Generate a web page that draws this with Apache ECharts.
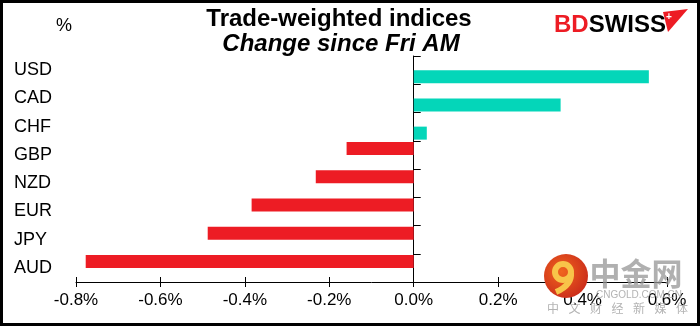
<!DOCTYPE html>
<html>
<head>
<meta charset="utf-8">
<script src="https://cdn.jsdelivr.net/npm/echarts@6/dist/echarts.min.js"></script>
<style>
html, body { margin: 0; padding: 0; background: #fff; }
#main { width: 700px; height: 327px; }
</style>
</head>
<body>
<div id="main"></div>
<script>
var currencies = ['USD', 'CAD', 'CHF', 'GBP', 'NZD', 'EUR', 'JPY', 'AUD'];
var changes = [0.557, 0.348, 0.031, -0.159, -0.232, -0.384, -0.488, -0.777];
var titleLines = ['Trade-weighted indices', 'Change since Fri AM'];
var watermarkChars = ['中', '文', '财', '经', '新', '媒', '体'];

var font = '"Liberation Sans", Arial, sans-serif';
var upColor = '#04d6b9';
var downColor = '#ed1c24';

// Excel draws the two signs as separate series, so they sit off-centre
var upData = changes.map(function (v) { return v >= 0 ? v : '-'; });
var downData = changes.map(function (v) { return v < 0 ? v : '-'; });

var myChart = echarts.init(document.getElementById('main'));

var graphics = [
    {
        type: 'rect',
        shape: { x: 1.5, y: 1.5, width: 697, height: 323 },
        style: { fill: 'none', stroke: '#000', lineWidth: 3 },
        z: 100
    },
    {
        type: 'text', x: 339, y: 19,
        style: { text: titleLines[0], fill: '#000', font: 'bold 24px ' + font, align: 'center', verticalAlign: 'middle' }
    },
    {
        type: 'text', x: 341, y: 44,
        style: { text: titleLines[1], fill: '#000', font: 'italic bold 24px ' + font, align: 'center', verticalAlign: 'middle' }
    },
    {
        type: 'text', x: 64, y: 26,
        style: { text: '%', fill: '#000', font: '18px ' + font, align: 'center', verticalAlign: 'middle' }
    },
    // BDSWISS logo
    {
        type: 'text', x: 554, y: 25,
        style: {
            text: '{a|BD}{b|SWISS}',
            verticalAlign: 'middle',
            rich: {
                a: { fill: '#ed1c24', font: 'bold 24px ' + font },
                b: { fill: '#000', font: 'bold 24px ' + font }
            }
        }
    },
    {
        type: 'polygon',
        shape: { points: [[663, 12], [688, 9], [668, 32]] },
        style: { fill: '#ed1c24' }
    },
    {
        type: 'text', x: 669, y: 17,
        style: { text: '+', fill: '#fff', font: 'bold 10px ' + font, align: 'center', verticalAlign: 'middle' }
    },
    // watermark
    {
        type: 'circle',
        shape: { cx: 566, cy: 276, r: 22 },
        style: {
            fill: new echarts.graphic.RadialGradient(0.4, 0.4, 0.7, [
                { offset: 0, color: '#f0641e' },
                { offset: 1, color: '#c8281a' }
            ])
        },
        z: 50
    },
    {
        type: 'arc',
        shape: { cx: 563, cy: 272, r: 8, startAngle: 0, endAngle: Math.PI * 2 },
        style: { fill: 'none', stroke: '#f8c449', lineWidth: 6 },
        z: 51
    },
    {
        type: 'bezierCurve',
        shape: { x1: 571, y1: 273, x2: 556, y2: 292, cpx1: 572, cpy1: 285 },
        style: { fill: 'none', stroke: '#f8c449', lineWidth: 6 },
        z: 51
    },
    {
        type: 'text', x: 636, y: 273,
        style: { text: '中金网', fill: 'rgba(150,150,150,0.75)', font: 'bold 31px "Noto Sans CJK SC", sans-serif', align: 'center', verticalAlign: 'middle' },
        z: 50
    },
    {
        type: 'text', x: 639, y: 295,
        style: { text: 'CNGOLD.COM.CN', fill: 'rgba(160,160,160,0.8)', font: '10px ' + font, align: 'center', verticalAlign: 'middle' },
        z: 50
    }
];
watermarkChars.forEach(function (ch, i) {
    graphics.push({
        type: 'text', x: 553 + i * 21.5, y: 308,
        style: { text: ch, fill: 'rgba(160,160,160,0.8)', font: '12px "Noto Sans CJK SC", sans-serif', align: 'center', verticalAlign: 'middle' },
        z: 50
    });
});

var option = {
    backgroundColor: '#fff',
    animation: false,
    grid: {
        left: 76,
        right: 33,
        top: 56,
        bottom: 45
    },
    xAxis: [{
        type: 'value',
        position: 'bottom',
        min: -0.8,
        max: 0.6,
        interval: 0.2,
        splitLine: { show: false },
        axisLine: { show: true, lineStyle: { color: '#000', width: 1 } },
        axisTick: { show: true, length: 5, lineStyle: { color: '#000' } },
        axisLabel: {
            margin: 10,
            color: '#000',
            fontSize: 17,
            fontFamily: font,
            formatter: function (v) { return v.toFixed(1) + '%'; }
        }
    }, {
        type: 'value',
        position: 'bottom',
        min: -0.8,
        max: 0.6,
        interval: 0.2,
        splitLine: { show: false },
        axisLine: { show: false },
        axisTick: { show: true, inside: true, length: 5, lineStyle: { color: '#000' } },
        axisLabel: { show: false }
    }],
    yAxis: [{
        type: 'category',
        inverse: true,
        position: 'left',
        data: currencies,
        axisLine: { show: true, onZero: true, lineStyle: { color: '#000', width: 1 } },
        axisTick: { show: true, inside: true, length: 7, lineStyle: { color: '#000' } },
        axisLabel: { show: false }
    }, {
        type: 'category',
        inverse: true,
        position: 'left',
        data: currencies,
        axisLine: { show: false, onZero: false },
        axisTick: { show: false },
        axisLabel: {
            align: 'left',
            margin: 62,
            color: '#000',
            fontSize: 18,
            fontFamily: font
        }
    }],
    series: [{
        name: 'down',
        type: 'bar',
        data: downData,
        barWidth: 13,
        barGap: '0%',
        itemStyle: { color: downColor }
    }, {
        name: 'up',
        type: 'bar',
        data: upData,
        barWidth: 13,
        barGap: '0%',
        itemStyle: { color: upColor }
    }],
    graphic: graphics
};

myChart.setOption(option);
</script>
</body>
</html>
